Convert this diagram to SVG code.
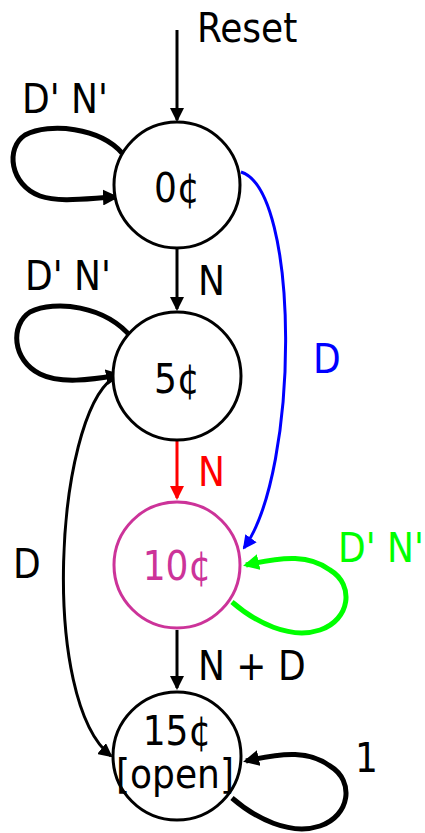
<svg xmlns="http://www.w3.org/2000/svg" width="425" height="833" viewBox="0 0 425 833">
  <style>
    text { font-family: 'DejaVu Sans Condensed', 'DejaVu Sans', sans-serif; font-stretch: condensed; font-size: 40px; fill: #000; }
    .mid { text-anchor: middle; }
    .state { fill: #fff; stroke: #000; stroke-width: 3; }
    .edge { fill: none; stroke-width: 3; }
    .loop { fill: none; stroke-width: 5; stroke-linejoin: round; }
  </style>
  <defs>
    <marker id="ah-k" markerUnits="userSpaceOnUse" viewBox="0 0 14 14" markerWidth="14" markerHeight="14" refX="12" refY="7" orient="auto">
      <path d="M0,0 L14,7 L0,14 z" fill="#000"/>
    </marker>
    <marker id="ah-r" markerUnits="userSpaceOnUse" viewBox="0 0 14 14" markerWidth="14" markerHeight="14" refX="12" refY="7" orient="auto">
      <path d="M0,0 L14,7 L0,14 z" fill="#ff0000"/>
    </marker>
    <marker id="ah-b" markerUnits="userSpaceOnUse" viewBox="0 0 14 14" markerWidth="14" markerHeight="14" refX="12" refY="7" orient="auto">
      <path d="M0,0 L14,7 L0,14 z" fill="#0000ff"/>
    </marker>
    <marker id="ahl-k" markerUnits="userSpaceOnUse" viewBox="0 0 16 16" markerWidth="16" markerHeight="16" refX="13" refY="8" orient="auto">
      <path d="M0,0 L16,8 L0,16 z" fill="#000"/>
    </marker>
    <marker id="ahl-g" markerUnits="userSpaceOnUse" viewBox="0 0 16 16" markerWidth="16" markerHeight="16" refX="13" refY="8" orient="auto">
      <path d="M0,0 L16,8 L0,16 z" fill="#00ff00"/>
    </marker>
  </defs>

  <!-- transitions -->
  <g id="connectors">
    <path class="edge" stroke="#000" d="M177,30 L177,120" marker-end="url(#ah-k)"/>
    <path class="edge" stroke="#000" d="M177,249 L177,309" marker-end="url(#ah-k)"/>
    <path class="edge" stroke="#ff0000" d="M177,441 L177,498" marker-end="url(#ah-r)"/>
    <path class="edge" stroke="#000" d="M177,630 L177,688" marker-end="url(#ah-k)"/>
    <!-- 0¢ to 10¢ on D -->
    <path class="edge" stroke="#0000ff" d="M241,172 C300,190 300,470 244,548" marker-end="url(#ah-b)"/>
    <!-- 5¢ to 15¢ on D -->
    <path class="edge" stroke="#000" d="M113,378 C55,420 40,700 111,756" marker-end="url(#ah-k)"/>
    <!-- self loops -->
    <path class="loop" stroke="#000" d="M122,153 C100,128 50,122 25,135 C5,148 10,185 40,196 C60,203 90,198 116,197" marker-end="url(#ahl-k)"/>
    <path class="loop" stroke="#000" d="M132,338 C105,305 55,300 30,312 C10,325 12,360 40,374 C60,384 90,380 119,375" marker-end="url(#ahl-k)"/>
    <path class="loop" stroke="#00ff00" d="M232,602 C255,622 290,640 320,630 C350,620 355,585 330,570 C310,555 285,556 246,565" marker-end="url(#ahl-g)"/>
    <path class="loop" stroke="#000" d="M232,798 C255,818 290,836 320,826 C350,816 355,781 330,766 C310,751 285,752 246,761" marker-end="url(#ahl-k)"/>
  </g>

  <g id="s0">
    <circle class="state" cx="177" cy="185" r="63"/>
    <text class="mid" x="177" y="202">0¢</text>
  </g>
  <g id="s5">
    <circle class="state" cx="177" cy="376" r="64"/>
    <text class="mid" x="177" y="393">5¢</text>
  </g>
  <g id="s10">
    <circle class="state" cx="177" cy="565" r="63" style="stroke:#cc3399"/>
    <text class="mid" x="177" y="580" style="fill:#cc3399">10¢</text>
  </g>
  <g id="s15">
    <circle class="state" cx="177" cy="756" r="64"/>
    <text class="mid" x="177" y="745">15¢</text>
    <text class="mid" x="175" y="788">[open]</text>
  </g>

  <!-- labels -->
  <g id="labels">
    <text x="197" y="42">Reset</text>
    <text x="22" y="113">D' N'</text>
    <text x="198" y="295">N</text>
    <text x="25" y="290">D' N'</text>
    <text x="313" y="373" style="fill:#0000ff">D</text>
    <text x="198" y="486" style="fill:#ff0000">N</text>
    <text x="13" y="578">D</text>
    <text x="338" y="562" style="fill:#00ff00">D' N'</text>
    <text x="198" y="680">N + D</text>
    <text x="355" y="772">1</text>
  </g>
</svg>
